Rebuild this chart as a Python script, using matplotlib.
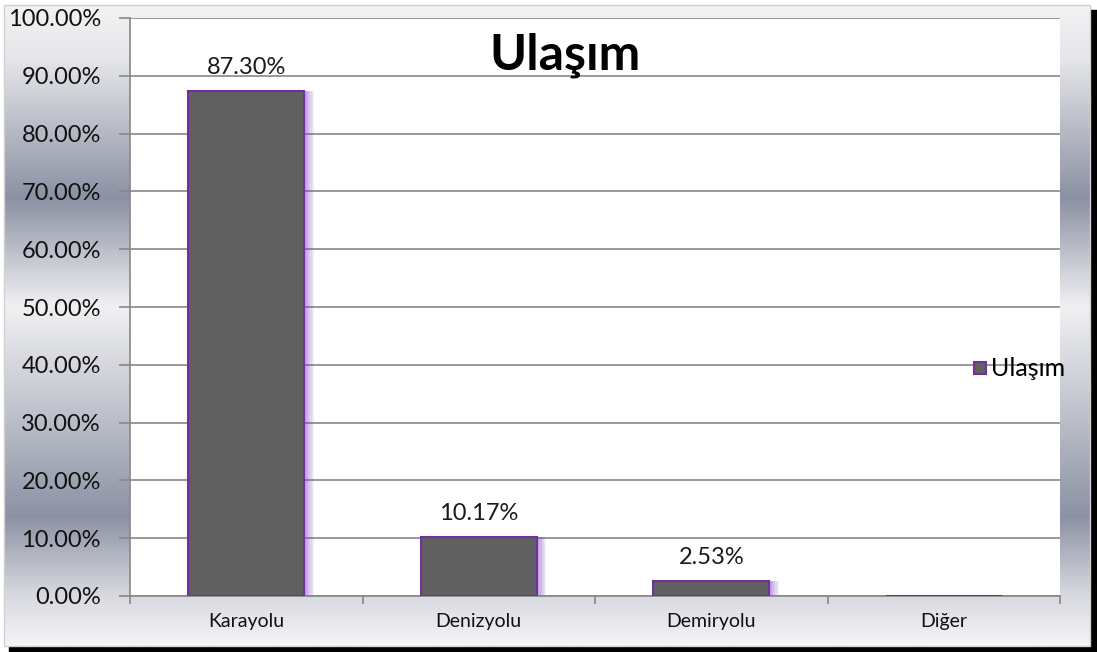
import numpy as np
import matplotlib.pyplot as plt
from matplotlib.colors import LinearSegmentedColormap
from matplotlib.patches import Rectangle

categories = ["Karayolu", "Denizyolu", "Demiryolu", "Diğer"]
shares = [87.30, 10.17, 2.53, 0.0]
yticks = [0, 10, 20, 30, 40, 50, 60, 70, 80, 90, 100]

plt.rcParams["font.family"] = ["Lato", "DejaVu Sans"]

fig = plt.figure(figsize=(10.97, 6.52), dpi=100)
fig.patch.set_facecolor("white")

# drop shadow + silver gradient background
bg = fig.add_axes([0, 0, 1, 1], zorder=-10)
bg.set_xlim(0, 1)
bg.set_ylim(0, 1)
bg.axis("off")
bg.add_patch(Rectangle((0.008, 0.0), 0.992, 0.985, color="black"))
stops = [(0.0, "#f2f2f4"), (0.08, "#e6e7ea"), (0.30, "#8b91a3"),
         (0.47, "#f1f1f3"), (0.62, "#c4c7d0"), (0.80, "#8c92a4"),
         (0.92, "#d6d8de"), (1.0, "#f4f4f6")]
cmap = LinearSegmentedColormap.from_list("silver", stops)
grad = np.linspace(0, 1, 400).reshape(-1, 1)
bg.imshow(grad, cmap=cmap, aspect="auto", origin="upper",
          extent=(0.004, 0.994, 0.009, 0.992), zorder=1)
bg.add_patch(Rectangle((0.004, 0.009), 0.99, 0.983, fill=False,
                       edgecolor="#d0d0d0", lw=1, zorder=2))

ax = fig.add_axes([130 / 1097, 1 - 596 / 652, 930 / 1097, 578 / 652])
ax.set_facecolor("white")

x = np.arange(len(categories))

# soft purple glow on the right of each bar
for k in range(8):
    ax.bar(x + 0.006 + k * 0.005, shares, width=0.5, color="#8040c0",
           alpha=0.08, linewidth=0, zorder=2)
ax.bar(x, shares, width=0.5, color="#606060", edgecolor="#7030a0",
       linewidth=1.5, zorder=3)

for xi, v in zip(x, shares):
    if v > 0:
        ax.text(xi, v + 2.3, f"{v:.2f}%", ha="center", va="bottom",
                fontsize=17, color="#1a1a1a")

ax.set_xlim(-0.5, len(categories) - 0.5)
ax.set_ylim(0, 100)
ax.set_yticks(yticks)
ax.set_yticklabels([f"{t:.2f}%" for t in yticks], fontsize=17, color="#111111")
ax.yaxis.grid(True, color="#878787", lw=1.2, zorder=0)
ax.set_axisbelow(True)

ax.set_xticks(x)
ax.set_xticklabels(categories, fontsize=14, color="#111111")
ax.tick_params(axis="x", length=0, pad=12)
ax.set_xticks(np.arange(-0.5, len(categories)), minor=True)
ax.tick_params(axis="x", which="minor", length=6, color="#878787", width=1.2)
ax.tick_params(axis="y", length=8, color="#878787", width=1.2, pad=13)

for side in ["top", "right"]:
    ax.spines[side].set_visible(False)
for side in ["left", "bottom"]:
    ax.spines[side].set_color("#878787")
    ax.spines[side].set_linewidth(1.2)

fig.text(565 / 1097, 1 - 55 / 652, "Ulaşım", fontsize=36, fontweight="bold",
         ha="center", va="center", color="black")

# legend entry, drawn above the plot area
fig.patches.append(Rectangle((974 / 1097, 1 - 374 / 652), 12 / 1097, 12 / 652,
                             facecolor="#606060", edgecolor="#7030a0", lw=1.5,
                             transform=fig.transFigure, figure=fig, zorder=5))
fig.text(991 / 1097, 1 - 368 / 652, "Ulaşım", fontsize=18, ha="left",
         va="center", color="black")

fig.savefig("out.png", dpi=100)
